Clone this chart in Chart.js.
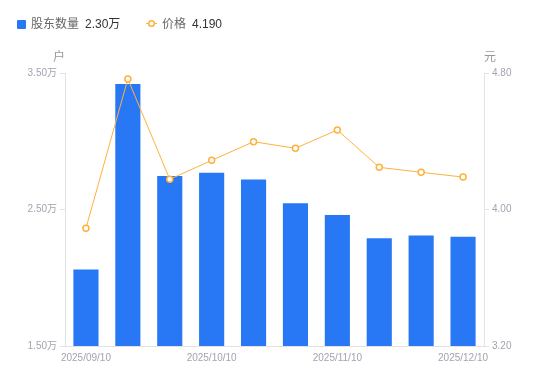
<!DOCTYPE html>
<html>
<head>
<meta charset="utf-8">
<script src="https://cdn.jsdelivr.net/npm/chart.js@4.4.0/dist/chart.umd.min.js"></script>
<style>
html,body{margin:0;padding:0;background:#fff;}
#wrap{position:relative;width:550px;height:381px;font-family:"Liberation Sans","Noto Sans CJK SC",sans-serif;}
canvas{position:absolute;left:0;top:0;}
.lg{position:absolute;top:16px;font-size:12px;line-height:16px;white-space:nowrap;}
.nm{color:#666;}
.vl{color:#333;margin-left:6px;}
.unit{position:absolute;top:49px;font-size:12px;color:#999;line-height:16px;}
</style>
</head>
<body>
<div id="wrap">
<canvas id="c" width="550" height="381"></canvas>
<div class="lg" style="left:17px;"><span style="display:inline-block;width:9px;height:9px;background:#2878F5;border-radius:1px;vertical-align:-1px;margin-right:5px;"></span><span class="nm">股东数量</span><span class="vl" id="v1"></span></div>
<div class="lg" style="left:146px;"><svg width="11" height="9" style="vertical-align:0px;margin-right:5px;"><line x1="0" y1="4.5" x2="11" y2="4.5" stroke="#FFB13B" stroke-width="1"/><circle cx="5.5" cy="4.5" r="2.8" fill="#fff" stroke="#FFB13B" stroke-width="1.5"/></svg><span class="nm">价格</span><span class="vl" id="v2"></span></div>
<div class="unit" style="left:53px;">户</div>
<div class="unit" style="left:484px;">元</div>
</div>
<script>
const categories = ["2025/09/10","2025/09/20","2025/09/30","2025/10/10","2025/10/20","2025/10/31","2025/11/10","2025/11/20","2025/11/30","2025/12/10"];
const holders = [2.06, 3.42, 2.745, 2.77, 2.72, 2.545, 2.46, 2.29, 2.31, 2.30];
const prices = [3.89, 4.765, 4.177, 4.288, 4.397, 4.359, 4.466, 4.247, 4.218, 4.190];
const leftTicks = [1.5, 2.5, 3.5];
const rightTicks = [3.2, 4.0, 4.8];

document.getElementById('v1').textContent = holders[holders.length-1].toFixed(2) + '万';
document.getElementById('v2').textContent = prices[prices.length-1].toFixed(3);

const tickFont = {size: 10, family: '"Liberation Sans","Noto Sans CJK SC",sans-serif'};
const axisColor = '#e3e3e3';
const tickColor = '#a3a3b0';

new Chart(document.getElementById('c'), {
  data: {
    labels: categories,
    datasets: [
      {type: 'line', label: '价格', data: prices, yAxisID: 'y1', borderColor: '#FFB13B', borderWidth: 1,
       pointRadius: 3, pointBorderWidth: 1.5, pointBackgroundColor: '#fff', pointBorderColor: '#FFB13B', tension: 0, order: 0},
      {type: 'bar', label: '股东数量', data: holders, yAxisID: 'y', backgroundColor: '#2878F5',
       barPercentage: 0.6, categoryPercentage: 1.0, order: 1}
    ]
  },
  options: {
    responsive: false, animation: false,
    layout: {padding: {top: 73, left: 0, right: 0, bottom: 0}},
    plugins: {legend: {display: false}, tooltip: {enabled: false}},
    scales: {
      x: {
        grid: {display: false, drawTicks: false},
        border: {display: true, color: axisColor},
        ticks: {autoSkip: false, maxRotation: 0, color: tickColor, font: tickFont, padding: 6,
          callback: function(v, i){ return i % 3 === 0 ? categories[i] : ''; }},
        afterFit: function(s){ s.height = 35; }
      },
      y: {
        position: 'left', min: 1.5, max: 3.5,
        afterBuildTicks: function(s){ s.ticks = leftTicks.map(v => ({value: v})); },
        grid: {drawOnChartArea: false, drawTicks: true, tickLength: 5, color: axisColor},
        border: {display: true, color: axisColor},
        ticks: {color: tickColor, font: tickFont, padding: 3, callback: v => v.toFixed(2) + '万'},
        afterFit: function(s){ s.width = 65; }
      },
      y1: {
        position: 'right', min: 3.2, max: 4.8,
        afterBuildTicks: function(s){ s.ticks = rightTicks.map(v => ({value: v})); },
        grid: {drawOnChartArea: false, drawTicks: true, tickLength: 5, color: axisColor},
        border: {display: true, color: axisColor},
        ticks: {color: tickColor, font: tickFont, padding: 3, callback: v => v.toFixed(2)},
        afterFit: function(s){ s.width = 66; }
      }
    }
  }
});
</script>
</body>
</html>
